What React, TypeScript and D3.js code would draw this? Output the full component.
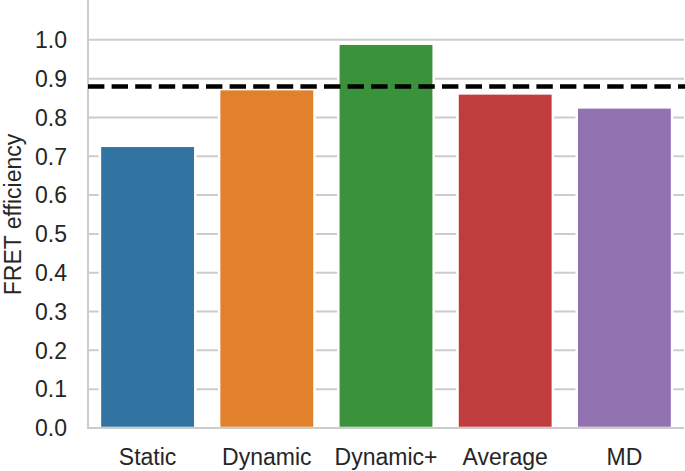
import * as d3 from "d3";

const categories = ["Static", "Dynamic", "Dynamic+", "Average", "MD"];
const values = [0.727, 0.873, 0.99, 0.862, 0.826];
const colors = ["#3274a1", "#e1812c", "#3a923a", "#c03d3e", "#9372b2"];
const yTicks = [0, 0.1, 0.2, 0.3, 0.4, 0.5, 0.6, 0.7, 0.8, 0.9, 1.0];
const reference = 0.88;

const W = 685;
const H = 471;
const FONT = "'Liberation Sans', Arial, sans-serif";
const TEXT = "#262626";
const GRID = "#cccccc";

export default function App() {
  const left = 88;
  const right = 684;
  const bottom = 428;
  const top = 1;

  const x = d3
    .scaleBand<string>()
    .domain(categories)
    .range([left, right])
    .paddingInner(0.2)
    .paddingOuter(0.1);
  const y = d3.scaleLinear().domain([0, 1.1]).range([bottom, top]);

  return (
    <svg
      width={W}
      height={H}
      style={{ position: "absolute", left: 0, top: 0, background: "#fff" }}
      fontFamily={FONT}
    >
      {/* grid */}
      {yTicks.map((t) => (
        <line
          key={t}
          x1={left}
          x2={right}
          y1={y(t)}
          y2={y(t)}
          stroke={GRID}
          strokeWidth={2}
        />
      ))}

      {/* bars */}
      {categories.map((c, i) => (
        <rect
          key={c}
          x={x(c)}
          y={y(values[i])}
          width={x.bandwidth()}
          height={bottom - y(values[i])}
          fill={colors[i]}
          stroke="#fff"
          strokeWidth={2.5}
        />
      ))}

      {/* spines */}
      <line x1={left} x2={left} y1={0} y2={bottom + 1} stroke={GRID} strokeWidth={2} />
      <line x1={left - 1} x2={right} y1={bottom} y2={bottom} stroke={GRID} strokeWidth={2} />

      {/* reference line */}
      <line
        x1={left}
        x2={W}
        y1={y(reference)}
        y2={y(reference)}
        stroke="#000"
        strokeWidth={4.5}
        strokeDasharray="16.4 7.2"
      />

      {/* y ticks */}
      {yTicks.map((t) => (
        <text
          key={t}
          x={67}
          y={y(t)}
          dy="0.36em"
          textAnchor="end"
          fontSize={23}
          fill={TEXT}
        >
          {d3.format(".1f")(t)}
        </text>
      ))}

      {/* x ticks */}
      {categories.map((c) => (
        <text
          key={c}
          x={(x(c) ?? 0) + x.bandwidth() / 2}
          y={465}
          textAnchor="middle"
          fontSize={23}
          fill={TEXT}
        >
          {c}
        </text>
      ))}

      <text
        transform={`translate(21,${(top + bottom) / 2}) rotate(-90)`}
        textAnchor="middle"
        fontSize={23}
        fill={TEXT}
      >
        FRET efficiency
      </text>
    </svg>
  );
}
